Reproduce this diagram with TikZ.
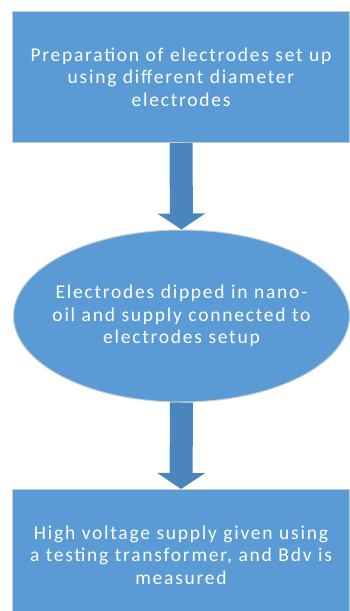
\documentclass[tikz,border=0pt]{standalone}
\usepackage{fontspec}
\setmainfont{Carlito}[LetterSpace=9]
\usetikzlibrary{shapes.geometric, arrows.meta, positioning}
\definecolor{boxblue}{HTML}{5B9BD5}
\definecolor{arrowblue}{HTML}{4A86BC}
\definecolor{edgegray}{HTML}{C8CCD0}
\tikzset{
  stepbox/.style={
    rectangle,
    minimum width=337pt, minimum height=131pt,
    text centered, text width=330pt, inner xsep=1pt,
    draw=edgegray, line width=1pt,
    fill=boxblue, text=white,
    font=\fontsize{19.5}{22.5}\selectfont
  },
  stepoval/.style={stepbox, ellipse, minimum width=336pt, minimum height=172pt,
    text width=280pt, inner xsep=-55pt},
  flowarrow/.style={-{Triangle[width=47pt, length=16pt]}, line width=23pt, arrowblue}
}
\begin{document}
\begin{tikzpicture}[x=1pt, y=-1pt]
  \useasboundingbox (0,0) rectangle (350,611);

  % Steps
  \node[stepbox] (prep) at (181,77) {Preparation of electrodes set up\\using different diameter\\electrodes};
  \node[stepoval] (dip) at (181.5,316) {Electrodes dipped in nano-\\oil and supply connected to\\electrodes setup};
  \node[stepbox] (test) at (181,555) {High voltage supply given using\\a testing transformer, and Bdv is\\measured};

  % Flow arrows
  \draw[flowarrow] (prep.south) -- (dip.north);
  \draw[flowarrow] (dip.south) -- (test.north);

\end{tikzpicture}
\end{document}
